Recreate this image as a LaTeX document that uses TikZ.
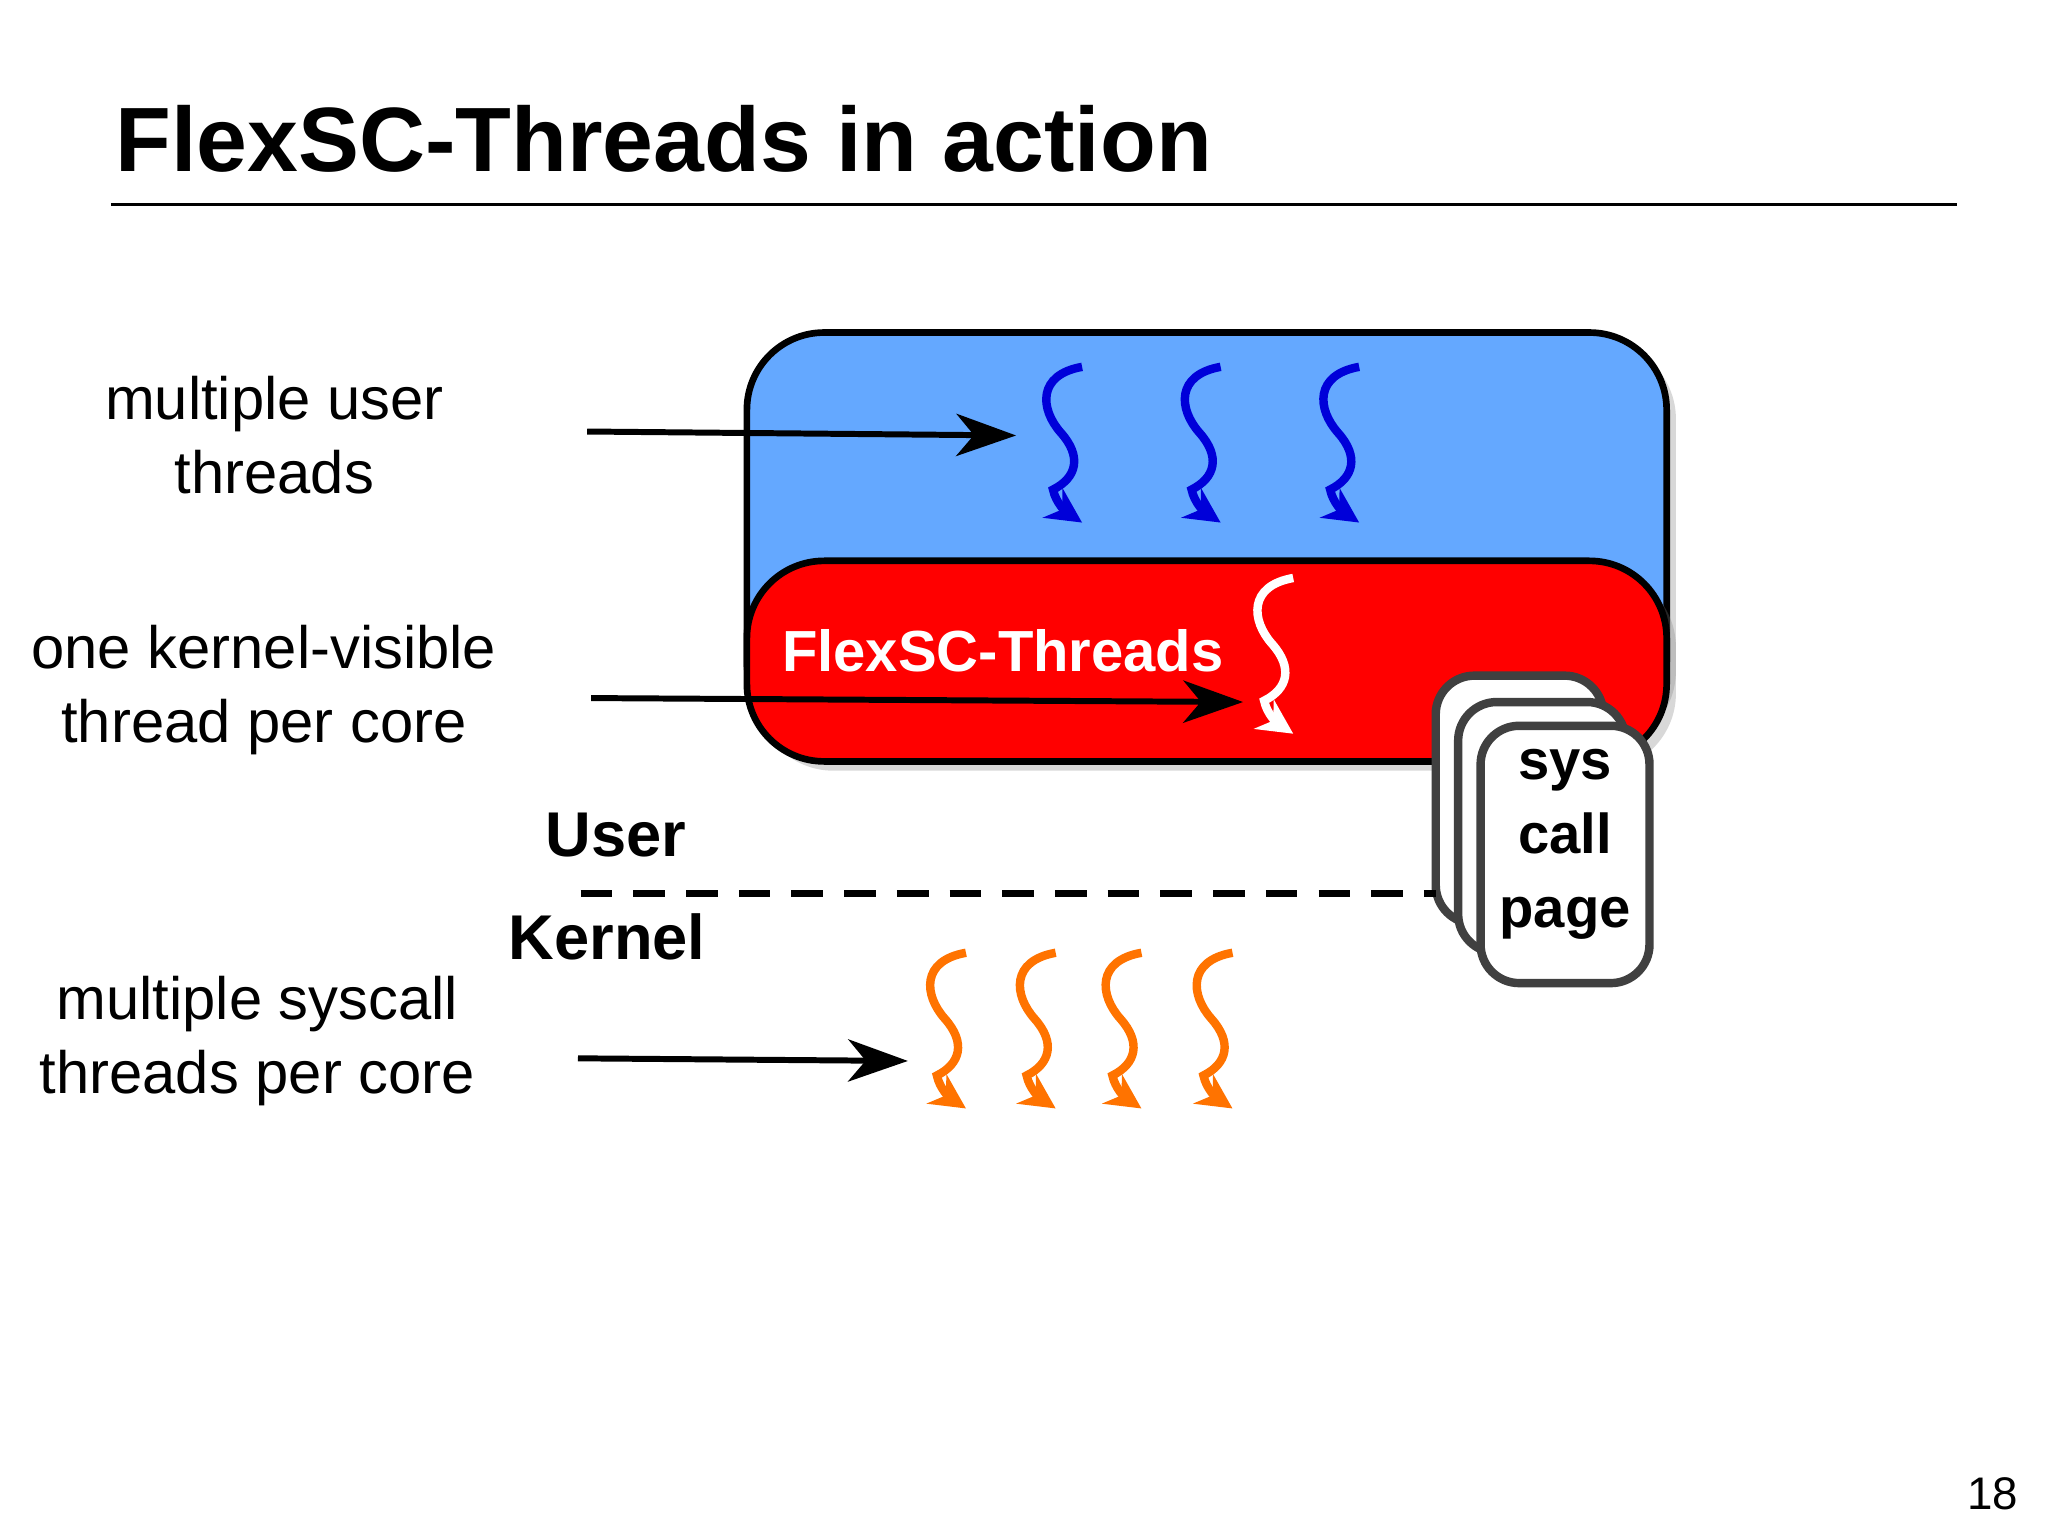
\documentclass[tikz,border=0pt]{standalone}
\usepackage{fontspec}
\setmainfont{Liberation Sans}
\usetikzlibrary{arrows.meta,shadows}
\begin{document}
\begin{tikzpicture}[x=0.0132cm,y=-0.0132cm,
  arr/.style={line width=1.7pt,-{Stealth[length=17pt,width=12pt,inset=5pt]}},
  lbl/.style={font=\fontsize{17}{21}\selectfont,align=center},
  bold/.style={font=\fontsize{18}{22}\selectfont\bfseries},
  squig/.pic={\draw[line width=2.4pt,#1,-{Stealth[length=10pt,width=10pt]}]
     (22,0) .. controls (-12,6) and (-10,32) .. (6,50) .. controls (22,68) and (18,84) .. (0,93) .. controls (2,103) and (10,110) .. (22,118);},
  pagebox/.style={draw=black!75,line width=2.4pt,fill=white,rounded corners=11pt},
]
\useasboundingbox (0,0) rectangle (1552,1164);
\fill[white] (0,0) rectangle (1552,1164);
\node[anchor=base west,font=\fontsize{26}{30}\selectfont\bfseries] (title) at (78,130) {FlexSC-Threads in action};
\draw[line width=1pt] (84,155) coordinate (r1) -- (1483,155) coordinate (r2);
% boxes
\draw[line width=1.9pt,fill={rgb,255:red,100;green,168;blue,255},rounded corners=22pt,drop shadow={opacity=0.3}] (566,252) rectangle (1263,560);
\draw[line width=1.9pt,fill=red,rounded corners=22pt,drop shadow={opacity=0.3}] (566,425) rectangle (1263,577);
\node[font=\fontsize{16.5}{20}\selectfont\bfseries,text=white] (ft) at (760,493) {FlexSC-Threads};
\foreach \x in {798,903,1008} \pic at (\x,278) {squig={blue!85!black}};
\pic at (958,438) {squig=white};
\foreach \x in {710,778,843,912} \pic at (\x,722) {squig={orange!90!red}};
% pages
\draw[pagebox] (1088,512) rectangle (1215,700);
\draw[pagebox] (1105,532) rectangle (1232,722);
\draw[pagebox] (1122,550) rectangle (1250,745);
\node[align=center,font=\fontsize{16}{21}\selectfont\bfseries] (sp) at (1186,640) {sys\\call\\page};
% labels
\node[lbl] (l1) at (208,330) {multiple user\\threads};
\node[lbl] (l2) at (200,523) {one kernel-visible\\thread per core};
\node[lbl] (l3) at (195,789) {multiple syscall\\threads per core};
\coordinate (a1s) at (445,327); \coordinate (a1e) at (770,330);
\coordinate (a2s) at (448,529); \coordinate (a2e) at (942,532);
\coordinate (a3s) at (438,802); \coordinate (a3e) at (688,804);
\draw[arr] (a1s) -- (a1e);
\draw[arr] (a2s) -- (a2e);
\draw[arr] (a3s) -- (a3e);
\node[bold] (user) at (467,633) {User};
\node[bold] (kern) at (460,710) {Kernel};
\coordinate (d1) at (440,677); \coordinate (d2) at (1088,677);
\draw[line width=2.2pt,dash pattern=on 9pt off 6pt] (d1) -- (d2);
\node[font=\fontsize{13}{15}\selectfont] (pn) at (1510,1132) {18};
\end{tikzpicture}
\end{document}
